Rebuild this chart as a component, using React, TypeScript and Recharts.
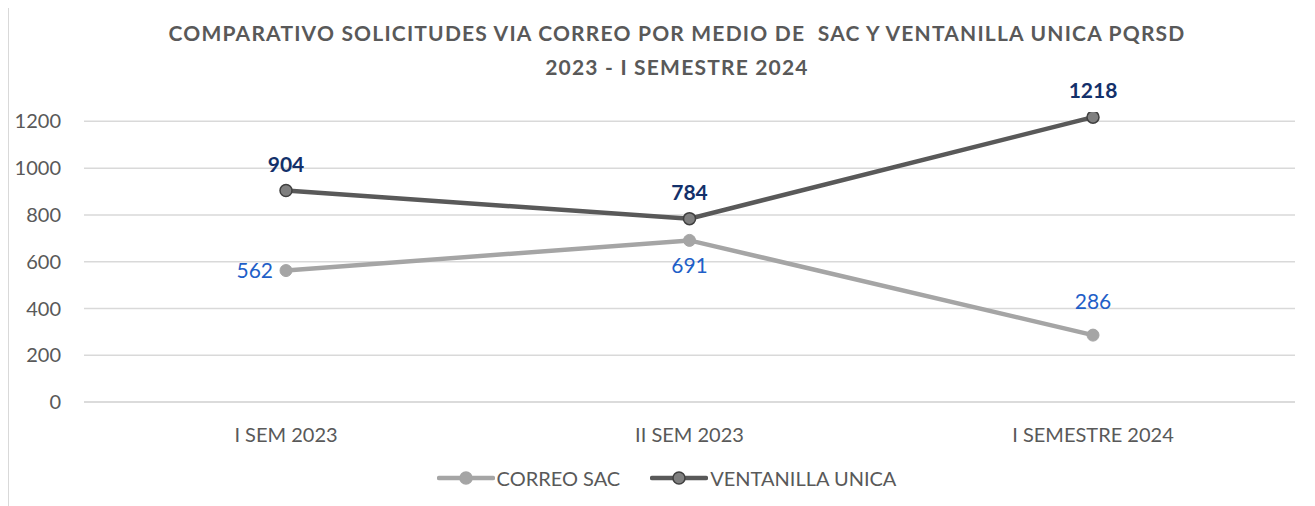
import React from "react";
import { LineChart, Line, XAxis, YAxis, CartesianGrid } from "recharts";

const categories = ["I SEM 2023", "II SEM 2023", "I SEMESTRE 2024"];
const correoSac = [562, 691, 286];
const ventanillaUnica = [904, 784, 1218];
const yTicks = [0, 200, 400, 600, 800, 1000, 1200];

const data = categories.map((name, i) => ({
  name,
  correo: correoSac[i],
  ventanilla: ventanillaUnica[i],
}));

const FONT = "Lato, 'Open Sans', sans-serif";

const CorreoLabel = (props: any) => {
  const { x, y, value, index } = props;
  let dx = 0;
  let dy = 0;
  let anchor = "middle";
  if (index === 0) {
    dx = -13;
    dy = 7;
    anchor = "end";
  } else if (index === 1) {
    dy = 33;
  } else {
    dy = -26;
  }
  return (
    <text x={x + dx} y={y + dy} textAnchor={anchor} fill="#1f5fc8" fontSize={21} fontFamily={FONT}>
      {value}
    </text>
  );
};

const VentanillaLabel = (props: any) => {
  const { x, y, value } = props;
  return (
    <text x={x} y={y - 19} textAnchor="middle" fill="#13306a" fontSize={21} fontWeight="bold" fontFamily={FONT}>
      {value}
    </text>
  );
};

export default function App() {
  return (
    <div style={{ position: "relative", width: 1320, height: 510, borderTop: "1px solid #d9d9d9", borderLeft: "1px solid #d9d9d9", boxSizing: "border-box", marginTop: -1, fontFamily: FONT }}>
      <div style={{ position: "absolute", left: 0, width: 1336, top: 8, textAlign: "center", color: "#595959", fontWeight: "bold", fontSize: 21, letterSpacing: 1.2, lineHeight: "34px" }}>
        <div>COMPARATIVO SOLICITUDES VIA CORREO POR MEDIO DE&nbsp; SAC Y VENTANILLA UNICA PQRSD</div>
        <div>2023 - I SEMESTRE 2024</div>
      </div>
      <LineChart width={1307} height={498} data={data} margin={{ top: 104, right: 21, bottom: 64, left: 0 }}>
        <CartesianGrid vertical={false} stroke="#d9d9d9" strokeWidth={1.5} syncWithTicks />
        <XAxis
          dataKey="name"
          axisLine={{ stroke: "#d9d9d9", strokeWidth: 1.5 }}
          tickLine={false}
          tickSize={0}
          tickMargin={26}
          height={40}
          tick={{ fill: "#595959", fontSize: 20, fontFamily: FONT }}
          padding={{ left: 202, right: 202 }}
          interval={0}
        />
        <YAxis
          width={75}
          domain={[0, 1240]}
          ticks={yTicks}
          axisLine={false}
          tickLine={false}
          tickSize={0}
          tickMargin={23}
          tick={{ fill: "#595959", fontSize: 20, fontFamily: FONT }}
          allowDataOverflow
        />
        <Line
          dataKey="correo"
          stroke="#a5a5a5"
          strokeWidth={4.5}
          dot={{ r: 6, fill: "#a5a5a5", stroke: "#a5a5a5", strokeWidth: 1 }}
          activeDot={false}
          isAnimationActive={false}
          label={<CorreoLabel />}
        />
        <Line
          dataKey="ventanilla"
          stroke="#595959"
          strokeWidth={4.5}
          dot={{ r: 6, fill: "#7f7f7f", stroke: "#404040", strokeWidth: 1.5 }}
          activeDot={false}
          isAnimationActive={false}
          label={<VentanillaLabel />}
        />
      </LineChart>
      <div style={{ position: "absolute", top: 458, left: 0, width: 1315, display: "flex", justifyContent: "center", gap: 30, color: "#595959", fontSize: 20 }}>
        {[
          { name: "CORREO SAC", line: "#a5a5a5", fill: "#a5a5a5", stroke: "#a5a5a5" },
          { name: "VENTANILLA UNICA", line: "#595959", fill: "#7f7f7f", stroke: "#404040" },
        ].map((it) => (
          <div key={it.name} style={{ display: "flex", alignItems: "center" }}>
            <svg width={58} height={20}>
              <line x1={2} y1={10} x2={56} y2={10} stroke={it.line} strokeWidth={4.5} strokeLinecap="round" />
              <circle cx={29} cy={10} r={6} fill={it.fill} stroke={it.stroke} strokeWidth={1.5} />
            </svg>
            <span style={{ marginLeft: 2 }}>{it.name}</span>
          </div>
        ))}
      </div>
    </div>
  );
}
